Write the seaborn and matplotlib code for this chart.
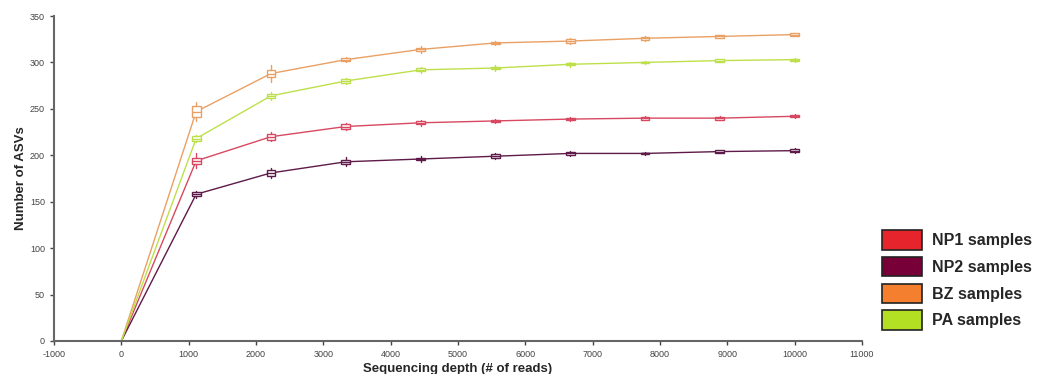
import numpy as np
import pandas as pd
import matplotlib
matplotlib.use("Agg")
import matplotlib.pyplot as plt
from matplotlib.patches import Patch
import seaborn as sns

# ---- data ----
depths = [0, 1111, 2222, 3333, 4444, 5556, 6667, 7778, 8889, 10000]
groups = ["NP1 samples", "NP2 samples", "BZ samples", "PA samples"]
np1 = [0, 194, 220, 231, 235, 237, 239, 240, 240, 242]
np2 = [0, 158, 181, 193, 196, 199, 202, 202, 204, 205]
bz = [0, 247, 288, 303, 314, 321, 323, 326, 328, 330]
pa = [0, 218, 264, 280, 292, 294, 298, 300, 302, 303]
# half inter-quartile range of the small boxes
np1_half = [0, 3, 3, 2.5, 1.5, 1.5, 1.5, 1.5, 1.5, 1]
np2_half = [0, 2, 3, 2, 1.5, 2, 1.5, 1, 1.5, 1.5]
bz_half = [0, 6, 4, 1.5, 1.5, 1.5, 2, 1.5, 1.5, 1.5]
pa_half = [0, 2.5, 2, 2, 1.5, 1.5, 1, 1, 1.5, 1]
# whisker half-length
np1_wh = [0, 8, 5, 4, 3, 2.5, 2.5, 2.5, 2, 2]
np2_wh = [0, 4, 5, 5, 3, 3, 2.5, 2, 2, 3]
bz_wh = [0, 10, 9, 3, 4, 2.5, 3, 2.5, 2, 2]
pa_wh = [0, 4, 4, 3, 3, 3, 3, 2, 2, 2]

xticks = list(range(-1000, 11001, 1000))
yticks = list(range(0, 351, 50))

legend_colors = {"NP1 samples": "#e5242c", "NP2 samples": "#780038",
                 "BZ samples": "#f47f2f", "PA samples": "#b4e024"}
line_colors = {"NP1 samples": "#d84860", "NP2 samples": "#5e1a48",
               "BZ samples": "#e9a065", "PA samples": "#bde04a"}

values = {"NP1 samples": np1, "NP2 samples": np2, "BZ samples": bz, "PA samples": pa}
halves = {"NP1 samples": np1_half, "NP2 samples": np2_half, "BZ samples": bz_half, "PA samples": pa_half}
whisk = {"NP1 samples": np1_wh, "NP2 samples": np2_wh, "BZ samples": bz_wh, "PA samples": pa_wh}

df = pd.DataFrame([(g, d, v) for g in groups for d, v in zip(depths, values[g])],
                  columns=["group", "depth", "asv"])

sns.set_style("white")
plt.rcParams['font.family'] = ['Liberation Sans', 'DejaVu Sans']
plt.rcParams['axes.unicode_minus'] = False

fig = plt.figure(figsize=(10.44, 3.74), dpi=100)
ax = fig.add_axes([54/1044, 1 - 341/374, (862-54)/1044, (341-16)/374])

sns.lineplot(data=df, x="depth", y="asv", hue="group", palette=line_colors,
             ax=ax, legend=False, linewidth=1.0, zorder=2)

for g in groups:
    stats = []
    for d, v, h, w in zip(depths[1:], values[g][1:], halves[g][1:], whisk[g][1:]):
        stats.append(dict(med=v, q1=v - h, q3=v + h, whislo=v - w, whishi=v + w, fliers=[]))
    c = line_colors[g]
    ax.bxp(stats, positions=depths[1:], widths=130, manage_ticks=False,
           patch_artist=True, showcaps=False,
           boxprops=dict(facecolor="white", edgecolor=c, linewidth=1.0),
           medianprops=dict(color=c, linewidth=1.0),
           whiskerprops=dict(color=c, linewidth=1.0), zorder=3)

ax.set_xlim(-1000, 11000)
ax.set_ylim(0, 350)
ax.set_xticks(xticks)
ax.set_yticks(yticks)
ax.tick_params(axis="both", labelsize=6.5, colors="#444444", length=3, width=1,
               direction="out", bottom=True, left=True)
for s in ["top", "right"]:
    ax.spines[s].set_visible(False)
for s in ["left", "bottom"]:
    ax.spines[s].set_color("#666666")
    ax.spines[s].set_linewidth(1.5)

ax.set_xlabel("Sequencing depth (# of reads)", fontsize=9.5, fontweight="bold", labelpad=3)
ax.set_ylabel("Number of ASVs", fontsize=9.5, fontweight="bold", labelpad=2)

handles = [Patch(facecolor=legend_colors[g], edgecolor="#222222", linewidth=1.2, label=g)
           for g in groups]
fig.legend(handles=handles, loc="lower left", bbox_to_anchor=(868/1044, 0.08),
           frameon=False, prop=dict(size=11.5, weight="bold"),
           handlelength=2.5, handleheight=1.5, handletextpad=0.6, labelspacing=0.45)

fig.savefig("out.png", dpi=100)
